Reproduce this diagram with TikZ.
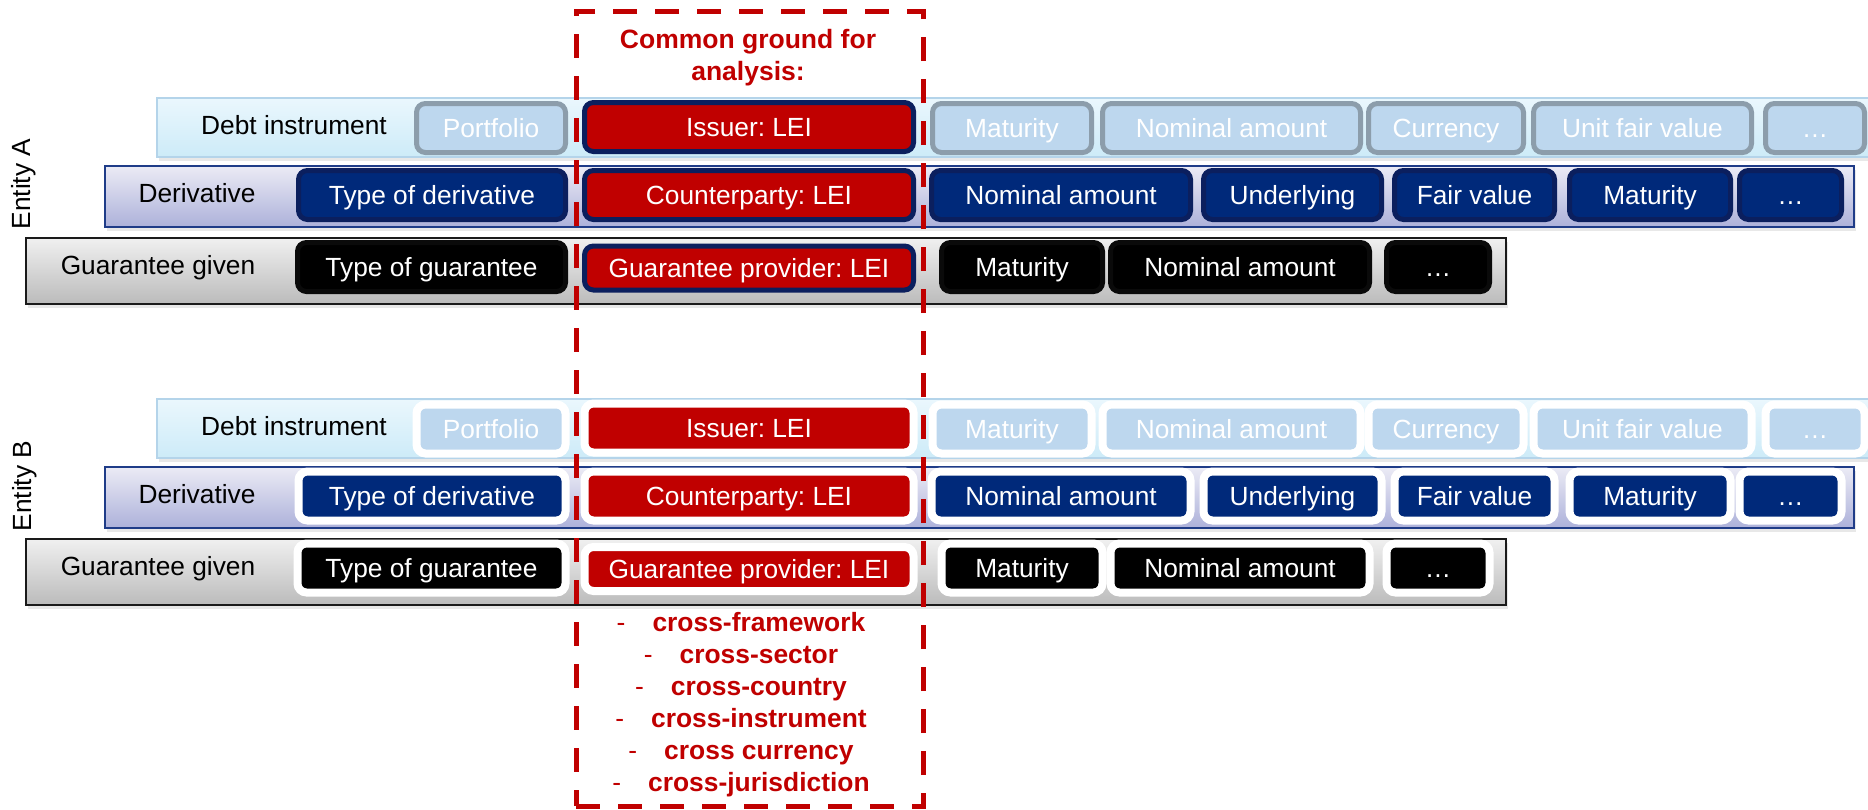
\documentclass[tikz,border=0pt]{standalone}
\usepackage{fontspec}
\setmainfont{Liberation Sans}
\usetikzlibrary{shadows}
\frenchspacing

\definecolor{debttop}{HTML}{EAF7FD}
\definecolor{debtbot}{HTML}{CDEBF8}
\definecolor{debtline}{HTML}{B4D4EA}
\definecolor{debtfill}{HTML}{BDD7EE}
\definecolor{debtedge}{HTML}{8C9DAB}
\definecolor{navytop}{HTML}{EBEBF5}
\definecolor{navybot}{HTML}{ADB1DA}
\definecolor{navyline}{HTML}{1F3C88}
\definecolor{navyfill}{HTML}{00297A}
\definecolor{navyedge}{HTML}{0B1F5E}
\definecolor{gteetop}{HTML}{F0F0F0}
\definecolor{gteebot}{HTML}{BBBBBB}
\definecolor{gteeline}{HTML}{1A1A1A}
\definecolor{gteeedge}{HTML}{0A0A0A}
\definecolor{leired}{HTML}{C00000}

\begin{document}
\begin{tikzpicture}[
		x=1pt, y=-1pt,
		every node/.style={inner sep=0pt, outer sep=0pt},
		txt/.style={font=\fontsize{26.3}{30}\selectfont, text height=18.8pt, text depth=0pt},
		band/.style={line width=1.6pt, drop shadow={shadow xshift=2pt, shadow yshift=-4pt, opacity=.18}},
		fld/.style={txt, rounded corners=9pt, text=white, minimum height=49pt},
		fieldA/.style={fld, line width=5pt},
		fieldB/.style={fld, line width=8pt, draw=white},
		debt/.style={fill=debtfill, draw=debtedge},
		deriv/.style={fill=navyfill, draw=navyedge},
		gtee/.style={fill=black, draw=gteeedge},
		lei/.style={fill=leired, draw=navyedge},
		cgbox/.style={draw=leired, line width=5pt, dash pattern=on 24pt off 18pt}
		]
		\useasboundingbox (0,0) rectangle (1868,809);

		\foreach \e/\dy/\fst in {A/0/fieldA, B/301/fieldB}{
			% bands
			\path[band, top color=debttop, bottom color=debtbot, draw=debtline] (157,{98+\dy}) rectangle (1870,{157+\dy});
			\path[band, top color=navytop, bottom color=navybot, draw=navyline] (105,{166+\dy}) rectangle (1854,{227+\dy});
			\path[band, top color=gteetop, bottom color=gteebot, draw=gteeline] (26,{238+\dy}) rectangle (1506,{304+\dy});

			\node[txt] (dlab\e) at (294,{125+\dy}) {Debt instrument};
			\node[txt] (vlab\e) at (197,{193+\dy}) {Derivative};
			\node[txt] (glab\e) at (158,{265+\dy}) {Guarantee given};

			% fields
			\foreach \x/\w/\t [count=\i] in {491/154/Portfolio, 1012/164/Maturity, 1231.5/263/Nominal amount, 1446/160/Currency, 1642.5/223/Unit fair value, 1815/104/…}
				\node[debt, \fst, minimum width=\w-5] (db\e-\i) at (\x,{128+\dy}) {\t};
			\foreach \x/\w/\t [count=\i] in {432/272/Type of derivative, 1061/264/Nominal amount, 1292.5/183/Underlying, 1474.5/165/Fair value, 1650/166/Maturity, 1790.5/107/…}
				\node[deriv, \fst, minimum width=\w-5] (dv\e-\i) at (\x,{195+\dy}) {\t};
			\foreach \x/\w/\t [count=\i] in {431.5/273/Type of guarantee, 1022/166/Maturity, 1240/264/Nominal amount, 1438/108/…}
				\node[gtee, \fst, minimum width=\w-5] (gt\e-\i) at (\x,{267+\dy}) {\t};

			% common ground
			\node[lei, \fst, minimum width=329] (iss\e) at (749,{127+\dy}) {Issuer: LEI};
			\node[lei, \fst, minimum width=329] (cpty\e) at (749,{195+\dy}) {Counterparty: LEI};
			\node[lei, \fst, minimum width=329, minimum height=44] (gprov\e) at (749,{268+\dy}) {Guarantee provider: LEI};
		}

		\node[txt, rotate=90] (entA) at (21,184) {Entity A};
		\node[txt, rotate=90] (entB) at (22,486) {Entity B};

		\node[cgbox, minimum width=347, minimum height=795] (cg) at (749.5,408.5) {};
		\node[align=center, text=leired, font=\fontsize{26.5}{32}\selectfont\bfseries] (cgtitle) at (748,58) {Common ground for\\analysis:};
		\node[align=center, text=leired, font=\fontsize{26.4}{32}\selectfont\bfseries] (cglist) at (741,705) {%
			{\mdseries-}\hspace{27pt}cross-framework\\
			{\mdseries-}\hspace{27pt}cross-sector\\
			{\mdseries-}\hspace{27pt}cross-country\\
			{\mdseries-}\hspace{27pt}cross-instrument\\
			{\mdseries-}\hspace{27pt}cross currency\\
			{\mdseries-}\hspace{27pt}cross-jurisdiction};
\end{tikzpicture}
\end{document}
